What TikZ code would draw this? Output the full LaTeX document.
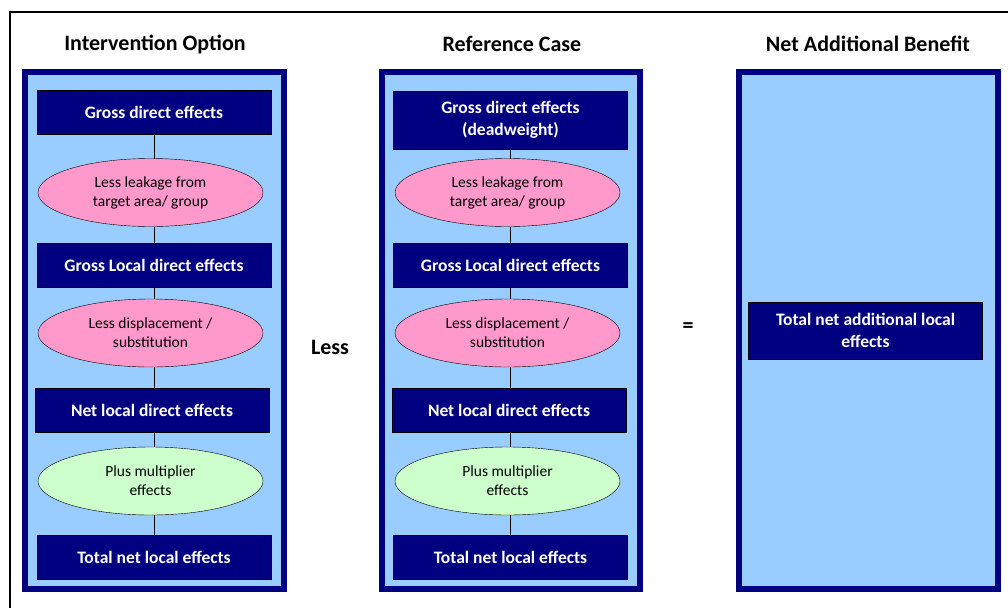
\documentclass[tikz,border=0pt]{standalone}
\usepackage{fontspec}
\setmainfont{Carlito}
\usetikzlibrary{shapes.geometric,positioning}
\definecolor{navy}{HTML}{000080}
\definecolor{paleblue}{HTML}{99CCFF}
\definecolor{pinkish}{HTML}{FF99CC}
\definecolor{palegreen}{HTML}{CCFFCC}
\tikzstyle{panel}=[draw=navy,line width=6pt,fill=paleblue]
\tikzstyle{effect}=[rectangle,draw=black,fill=navy,text=white,minimum width=234pt,minimum height=44pt,inner sep=2pt,outer sep=0pt,align=center,font=\fontsize{17.5}{22}\selectfont\bfseries]
\tikzstyle{less}=[ellipse,draw=black,fill=pinkish,minimum width=225pt,minimum height=68pt,inner sep=0pt,outer sep=0pt,align=center,font=\fontsize{15.5}{19}\selectfont]
\tikzstyle{plus}=[less,fill=palegreen]
\tikzstyle{heading}=[font=\fontsize{22}{24}\selectfont\bfseries]
\tikzstyle{link}=[draw=black,line width=0.8pt]

\begin{document}
\begin{tikzpicture}[x=1pt,y=-1pt]
    \useasboundingbox (0,0) rectangle (1008,608);
    \draw[line width=2pt] (10,608) -- (10,12) -- (1008,12);

    % panels
    \draw[panel] (25,72) rectangle (284,589);
    \draw[panel] (382,72) rectangle (640,589);
    \draw[panel] (739,72) rectangle (998,589);

    \node (ltitle) [heading] at (155,44) {Intervention Option};
    \node (rtitle) [heading] at (512,44) {Reference Case};
    \node (ntitle) [heading] at (868,44) {Net Additional Benefit};

    % intervention option
    \node (lgross) [effect] at (154,112.5) {Gross direct effects};
    \node (lleak) [less, below=24pt of lgross, xshift=-3.5pt] {Less leakage from\\target area/ group};
    \node (llocal) [effect] at (154,265) {Gross Local direct effects};
    \node (ldisp) [less, below=12pt of llocal, xshift=-3.5pt] {Less displacement /\\substitution};
    \node (lnet) [effect] at (152,410) {Net local direct effects};
    \node (lmult) [plus, below=15pt of lnet, xshift=-1.5pt] {Plus multiplier\\effects};
    \node (ltotal) [effect] at (154,557) {Total net local effects};

    % reference case
    \node (rgross) [effect, minimum height=58pt] at (510.5,120) {Gross direct effects\\(deadweight)};
    \node (rleak) [less] at (lleak -| 507.5,0) {Less leakage from\\target area/ group};
    \node (rlocal) [effect] at (llocal -| rgross) {Gross Local direct effects};
    \node (rdisp) [less] at (ldisp -| rleak) {Less displacement /\\substitution};
    \node (rnet) [effect] at (lnet -| 509,0) {Net local direct effects};
    \node (rmult) [plus] at (lmult -| rleak) {Plus multiplier\\effects};
    \node (rtotal) [effect] at (ltotal -| rgross) {Total net local effects};

    % net benefit
    \node (ntotal) [effect, minimum height=57pt] at (865.5,330.5) {Total net additional local\\effects};

    \node (lessop) [heading] at (330,347) {Less};
    \node (equals) [heading] at (688,328) {=};

    \path[link] (lgross.south) edge (lgross |- lleak.north)
        (lleak.south -| lgross) edge (llocal.north)
        (llocal.south) edge (llocal |- ldisp.north)
        (ldisp.south -| llocal) edge (llocal |- lnet.north)
        (lnet.south -| llocal) edge (llocal |- lmult.north)
        (lmult.south -| ltotal) edge (ltotal.north);
    \path[link] (rgross.south) edge (rgross |- rleak.north)
        (rleak.south -| rgross) edge (rlocal.north)
        (rlocal.south) edge (rlocal |- rdisp.north)
        (rdisp.south -| rlocal) edge (rlocal |- rnet.north)
        (rnet.south -| rlocal) edge (rlocal |- rmult.north)
        (rmult.south -| rtotal) edge (rtotal.north);
\end{tikzpicture}
\end{document}
